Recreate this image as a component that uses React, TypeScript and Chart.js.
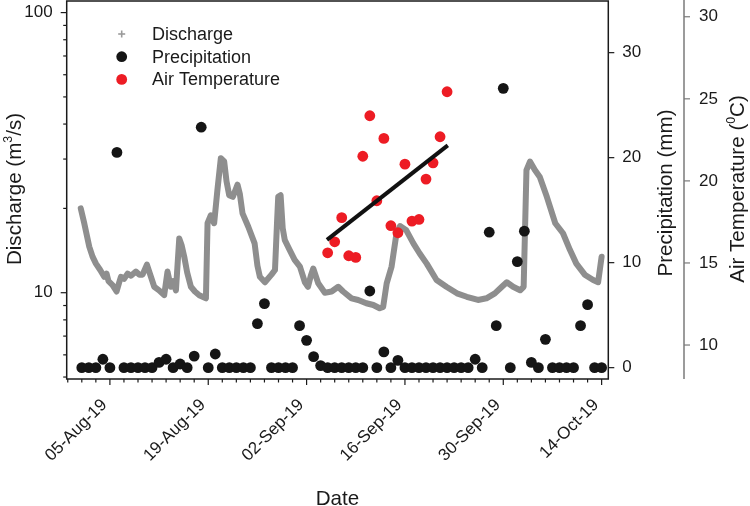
import React, { useEffect, useRef } from 'react';
import { Chart, registerables } from 'chart.js';

Chart.register(...registerables);

// ---- x axis (days relative to 05-Aug-2019) ----
const X_MIN = -6.15;
const X_MAX = 70.95;
const X_TICK_DAYS = [0, 14, 28, 42, 56, 70];
const X_TICK_LABELS = ['05-Aug-19', '19-Aug-19', '02-Sep-19', '16-Sep-19', '30-Sep-19', '14-Oct-19'];
const X_MINOR_DAYS = [-6, -4, -2, 2, 4, 6, 8, 10, 12, 16, 18, 20, 22, 24, 26, 30, 32, 34, 36, 38, 40, 44, 46, 48, 50, 52, 54, 58, 60, 62, 64, 66, 68];

// ---- discharge axis (log) ----
const Q_MIN = 4.92;
const Q_MAX = 110;
const Q_MAJOR = [10, 100];
const Q_MINOR = [5, 6, 7, 8, 9, 20, 30, 40, 50, 60, 70, 80, 90];

// ---- precipitation axis ----
const P_MIN = -1.08;
const P_MAX = 34.92;
const P_TICKS = [0, 10, 20, 30];

// ---- air temperature axis ----
const T_MIN = 7.93;
const T_MAX = 30.96;
const T_TICKS = [10, 15, 20, 25, 30];

// ---- discharge series (m3/s) ----
const dischargeDays = [
  -4.15, -3.65, -2.94, -2.47, -1.99, -1.38, -0.81, -0.47, -0.2, 0.38, 0.95, 1.33, 1.57, 2.0, 2.52, 3.0, 3.7, 4.2, 4.65,
  5.27, 5.84, 6.31, 7.0, 7.73, 8.2, 8.67, 9.0, 9.4, 9.87, 10.2, 10.58, 11.0, 11.53, 12.1, 12.72, 13.67, 13.9, 14.37,
  14.84, 15.3, 15.79, 16.27, 16.6, 16.98, 17.5, 18.17, 18.5, 18.88, 19.7, 20.6, 21.0, 21.35, 22.07, 23.0, 23.5, 23.8,
  23.96, 24.3, 24.6, 24.9, 25.6, 26.3, 27.05, 27.76, 28.2, 28.6, 28.95, 29.66, 30.6, 31.56, 32.5, 33.2, 34.4, 35.35,
  36.5, 37.5, 38.4, 38.9, 39.4, 40.1, 40.8, 41.3, 42.2, 43.2, 44.1, 45.1, 46.5, 47.9, 49.4, 50.8, 52.4, 53.6, 54.8,
  55.8, 56.5, 57.4, 58.4, 58.9, 59.3, 59.8, 60.5, 61.2, 62.2, 63.4, 64.5, 65.5, 66.4, 67.6, 68.8, 69.5, 70.0,
];
const dischargeValues = [
  20.0, 17.7, 14.6, 13.45, 12.7, 12.05, 11.4, 11.7, 11.0, 10.65, 10.1, 10.9, 11.4, 11.2, 11.7, 11.5, 11.9, 11.6, 11.6,
  12.6, 11.4, 10.5, 10.2, 9.8, 11.9, 10.5, 11.0, 10.2, 15.6, 14.8, 13.45, 11.8, 10.5, 10.1, 9.8, 9.55, 17.7, 18.9,
  17.7, 23.2, 30.2, 29.4, 25.0, 22.3, 22.0, 24.3, 22.5, 19.2, 17.2, 15.0, 12.5, 11.4, 10.9, 11.6, 12.05, 18.0,
  22.0, 22.3, 17.0, 15.4, 14.2, 13.1, 12.4, 10.9, 10.5, 11.5, 12.2, 10.8, 10.0, 10.1, 10.5, 10.1, 9.55, 9.42,
  9.17, 9.04, 8.8, 8.9, 10.8, 12.4, 16.3, 17.3, 16.7, 15.0, 13.8, 12.7, 11.1, 10.5, 9.95, 9.67, 9.42, 9.55, 9.95,
  10.5, 10.9, 10.5, 10.2, 10.5, 27.4, 29.4, 27.4, 25.9, 22.0, 17.7, 16.3, 14.2, 12.7, 11.6, 11.1, 10.9, 13.45,
];

// ---- precipitation series (mm, daily) ----
const precipDays = [
  -4, -3, -2, -1, 0, 1, 2, 3, 4, 5, 6, 7, 8, 9, 10, 11, 12, 13, 14, 15, 16, 17, 18, 19, 20, 21, 22, 23, 24, 25, 26,
  27, 28, 29, 30, 31, 32, 33, 34, 35, 36, 37, 38, 39, 40, 41, 42, 43, 44, 45, 46, 47, 48, 49, 50, 51, 52, 53, 54,
  55, 56, 57, 58, 59, 60, 61, 62, 63, 64, 65, 66, 67, 68, 69, 70,
];
const precipValues = [
  0, 0, 0, 0.8, 0, 20.5, 0, 0, 0, 0, 0, 0.5, 0.8, 0, 0.35, 0, 1.1, 22.9, 0, 1.3, 0, 0, 0, 0, 0, 4.2, 6.1, 0, 0, 0, 0,
  4.0, 2.6, 1.05, 0.2, 0, 0, 0, 0, 0, 0, 7.3, 0, 1.5, 0, 0.7, 0, 0, 0, 0, 0, 0, 0, 0, 0, 0, 0.8, 0, 12.9,
  4.0, 26.6, 0, 10.1, 13.0, 0.5, 0, 2.7, 0, 0, 0, 0, 4.0, 6.0, 0, 0,
];

// ---- air temperature series (deg C) ----
const tempDays = [31, 32, 33, 34, 35, 36, 37, 38, 39, 40, 41, 42, 43, 44, 45, 46, 47, 48];
const tempValues = [15.62, 16.29, 17.76, 15.44, 15.34, 21.5, 23.97, 18.79, 22.59, 17.27, 16.84, 21.02, 17.55, 17.65, 20.11, 21.1, 22.69, 25.43];

// ---- temperature trend line ----
const trendDays = [30.9, 48.1];
const trendValues = [16.41, 22.16];

const FONT = "'Liberation Sans', Arial, sans-serif";
const TEXT_COLOR = '#1a1a1a';
const GRAY = '#8e8e8e';
const RED = '#ed1c24';
const BLACK = '#151515';
const TITLE_SIZE = 20.6;

const LEGEND = [
  { label: 'Discharge', kind: 'plus', color: '#9a9a9a' },
  { label: 'Precipitation', kind: 'dot', color: BLACK },
  { label: 'Air Temperature', kind: 'dot', color: RED },
];

type Part = { t: string; sup?: boolean };

function drawRich(ctx: CanvasRenderingContext2D, parts: Part[], cx: number, cy: number, rot: number, size: number) {
  ctx.save();
  ctx.translate(cx, cy);
  ctx.rotate(rot);
  ctx.fillStyle = TEXT_COLOR;
  ctx.textBaseline = 'alphabetic';
  ctx.textAlign = 'left';
  const supSize = size * 0.6;
  const widths = parts.map((p) => {
    ctx.font = `${p.sup ? supSize : size}px ${FONT}`;
    return ctx.measureText(p.t).width;
  });
  const total = widths.reduce((a, b) => a + b, 0);
  let x = -total / 2;
  parts.forEach((p, i) => {
    ctx.font = `${p.sup ? supSize : size}px ${FONT}`;
    ctx.fillText(p.t, x, p.sup ? -size * 0.42 : 0);
    x += widths[i];
  });
  ctx.restore();
}

const decorPlugin = {
  id: 'decor',
  afterDraw(chart: any) {
    const { ctx, chartArea: a, scales } = chart;
    const sx = scales.x;
    const sq = scales.yQ;
    const sp = scales.yP;
    const st = scales.yT;
    ctx.save();
    const line = (x1: number, y1: number, x2: number, y2: number) => {
      ctx.beginPath();
      ctx.moveTo(x1, y1);
      ctx.lineTo(x2, y2);
      ctx.stroke();
    };
    ctx.strokeStyle = '#1a1a1a';
    ctx.lineWidth = 1.2;
    X_TICK_DAYS.forEach((d) => {
      const x = sx.getPixelForValue(d);
      line(x, a.bottom, x, a.bottom + 6);
    });
    X_MINOR_DAYS.forEach((d) => {
      const x = sx.getPixelForValue(d);
      line(x, a.bottom, x, a.bottom + 3.5);
    });
    Q_MAJOR.forEach((v) => {
      const y = sq.getPixelForValue(v);
      line(a.left, y, a.left - 6, y);
    });
    Q_MINOR.forEach((v) => {
      const y = sq.getPixelForValue(v);
      line(a.left, y, a.left - 3.5, y);
    });
    P_TICKS.forEach((v) => {
      const y = sp.getPixelForValue(v);
      line(a.right, y, a.right + 6, y);
    });
    ctx.lineWidth = 1.5;
    ctx.strokeRect(a.left, a.top, a.right - a.left, a.bottom - a.top);
    ctx.strokeStyle = '#7a7a7a';
    ctx.lineWidth = 1.5;
    const tx = st.left;
    line(tx, a.top - 1, tx, a.bottom);
    ctx.lineWidth = 1.2;
    T_TICKS.forEach((v) => {
      const y = st.getPixelForValue(v);
      line(tx, y, tx + 6, y);
    });

    drawRich(ctx, [{ t: 'Discharge (m' }, { t: '3', sup: true }, { t: '/s)' }], 20.7, 189, -Math.PI / 2, TITLE_SIZE);
    drawRich(ctx, [{ t: 'Precipitation (mm)' }], 671.5, 193, -Math.PI / 2, TITLE_SIZE);
    drawRich(ctx, [{ t: 'Air Temperature (' }, { t: '0', sup: true }, { t: 'C)' }], 744, 189, -Math.PI / 2, TITLE_SIZE);
    drawRich(ctx, [{ t: 'Date' }], (a.left + a.right) / 2, 505, 0, TITLE_SIZE);

    ctx.font = `18px ${FONT}`;
    ctx.textBaseline = 'middle';
    ctx.textAlign = 'left';
    LEGEND.forEach((item, i) => {
      const y = 34 + i * 22.7;
      const mx = 121.7;
      if (item.kind === 'plus') {
        ctx.strokeStyle = item.color;
        ctx.lineWidth = 1.6;
        line(mx - 3.5, y, mx + 3.5, y);
        line(mx, y - 3.5, mx, y + 3.5);
      } else {
        ctx.fillStyle = item.color;
        ctx.beginPath();
        ctx.arc(mx, y, 5.4, 0, Math.PI * 2);
        ctx.fill();
      }
      ctx.fillStyle = TEXT_COLOR;
      ctx.fillText(item.label, 152, y + 1);
    });
    ctx.restore();
  },
};

const toXY = (xs: number[], ys: number[]) => xs.map((x, i) => ({ x, y: ys[i] }));

const hiddenGrid = { drawOnChartArea: false, drawTicks: true, tickLength: 6, color: 'rgba(0,0,0,0)' };

const fixV = (w: number) => (s: any) => {
  s.width = w;
  s.paddingTop = 0;
  s.paddingBottom = 0;
};

export default function App() {
  const ref = useRef<HTMLCanvasElement | null>(null);
  useEffect(() => {
    if (!ref.current) return;
    const chart = new Chart(ref.current, {
      type: 'scatter',
      data: {
        datasets: [
          {
            label: 'Trend',
            data: toXY(trendDays, trendValues),
            yAxisID: 'yT',
            showLine: true,
            borderColor: '#111111',
            borderWidth: 4,
            pointRadius: 0,
            pointHoverRadius: 0,
            order: 0,
          },
          {
            label: 'Air Temperature',
            data: toXY(tempDays, tempValues),
            yAxisID: 'yT',
            pointBackgroundColor: RED,
            backgroundColor: RED,
            pointBorderWidth: 0,
            borderWidth: 0,
            pointRadius: 5.4,
            order: 1,
          },
          {
            label: 'Precipitation',
            data: toXY(precipDays, precipValues),
            yAxisID: 'yP',
            pointBackgroundColor: BLACK,
            backgroundColor: BLACK,
            pointBorderWidth: 0,
            borderWidth: 0,
            pointRadius: 5.4,
            order: 2,
          },
          {
            label: 'Discharge',
            data: toXY(dischargeDays, dischargeValues),
            yAxisID: 'yQ',
            showLine: true,
            borderColor: GRAY,
            borderWidth: 6,
            borderJoinStyle: 'round',
            borderCapStyle: 'round',
            pointRadius: 0,
            pointHoverRadius: 0,
            order: 3,
          },
        ],
      } as any,
      options: {
        animation: false,
        responsive: false,
        events: [],
        layout: { autoPadding: false, padding: { top: 1, left: 0, right: 0, bottom: 0 } },
        plugins: { legend: { display: false }, tooltip: { enabled: false } },
        scales: {
          x: {
            type: 'linear',
            position: 'bottom',
            min: X_MIN,
            max: X_MAX,
            grid: hiddenGrid,
            border: { display: false },
            afterBuildTicks: (s: any) => {
              s.ticks = X_TICK_DAYS.map((v) => ({ value: v }));
            },
            afterFit: (s: any) => {
              s.height = 127;
              s.paddingLeft = 0;
              s.paddingRight = 0;
            },
            ticks: {
              minRotation: 45,
              maxRotation: 45,
              padding: 10,
              labelOffset: -5.5,
              color: TEXT_COLOR,
              font: { family: FONT, size: 17 },
              callback: (v: any) => {
                const i = X_TICK_DAYS.indexOf(Number(v));
                return i >= 0 ? X_TICK_LABELS[i] : '';
              },
            },
          },
          yQ: {
            type: 'logarithmic',
            position: 'left',
            min: Q_MIN,
            max: Q_MAX,
            grid: hiddenGrid,
            border: { display: false },
            afterBuildTicks: (s: any) => {
              s.ticks = Q_MAJOR.map((v) => ({ value: v, major: true }));
            },
            afterFit: fixV(66.7),
            ticks: {
              padding: 8,
              color: TEXT_COLOR,
              font: { family: FONT, size: 17 },
              callback: (v: any) => String(v),
            },
          },
          yP: {
            type: 'linear',
            position: 'right',
            min: P_MIN,
            max: P_MAX,
            grid: hiddenGrid,
            border: { display: false },
            afterBuildTicks: (s: any) => {
              s.ticks = P_TICKS.map((v) => ({ value: v }));
            },
            afterFit: fixV(75.7),
            ticks: {
              padding: 8,
              color: TEXT_COLOR,
              font: { family: FONT, size: 17 },
              callback: (v: any) => String(v),
            },
          },
          yT: {
            type: 'linear',
            position: 'right',
            min: T_MIN,
            max: T_MAX,
            grid: hiddenGrid,
            border: { display: false },
            afterBuildTicks: (s: any) => {
              s.ticks = T_TICKS.map((v) => ({ value: v }));
            },
            afterFit: fixV(66),
            ticks: {
              padding: 9,
              color: TEXT_COLOR,
              font: { family: FONT, size: 17 },
              callback: (v: any) => String(v),
            },
          },
        },
      } as any,
      plugins: [decorPlugin],
    });
    return () => chart.destroy();
  }, []);

  return (
    <div style={{ position: 'fixed', left: 0, top: 0, width: 750, height: 506, background: '#fff' }}>
      <canvas ref={ref} width={750} height={506} style={{ display: 'block', width: 750, height: 506 }} />
    </div>
  );
}
